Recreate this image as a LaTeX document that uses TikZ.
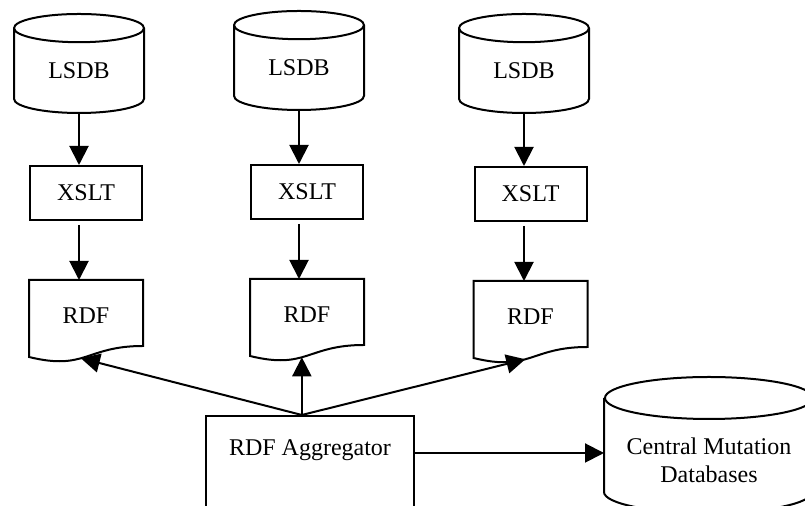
\documentclass[tikz,border=0pt]{standalone}
\usepackage{fontspec}
\setmainfont{Liberation Serif}
\usetikzlibrary{positioning, arrows.meta, shapes.geometric}

\tikzset{
  every node/.style={font=\fontsize{12}{14}\selectfont},
  lsdbcyl/.style={cylinder, shape border rotate=90, draw, aspect=0.46,
    minimum width=65pt, minimum height=49.5pt, inner sep=0pt, anchor=north},
  xsltbox/.style={draw, rectangle, minimum width=56pt, minimum height=27pt, anchor=north},
  docpage/.style={rectangle, inner sep=0pt, minimum width=56pt,
    text height=21.5pt, text depth=10.5pt, anchor=north},
  flow/.style={-{Triangle[length=9.5pt, width=9.5pt]}}
}

\begin{document}
\begin{tikzpicture}[x=0.5pt, y=-0.5pt, line width=1pt]
  \useasboundingbox (0,0) rectangle (805,506);
  \clip (0,0) rectangle (805,506);

  % one column per local database
  \node[lsdbcyl] (lsdb1) at (79,13) {LSDB};
  \node[lsdbcyl] (lsdb2) at (299,10) {LSDB};
  \node[lsdbcyl] (lsdb3) at (524,13) {LSDB};

  \node[xsltbox] (xslt1) at (86,165) {XSLT};
  \node[xsltbox] (xslt2) at (307,164) {XSLT};
  \node[xsltbox] (xslt3) at (530.5,166) {XSLT};

  \node[docpage] (rdf1) at (86,280) {RDF};
  \node[docpage] (rdf2) at (307,279) {RDF};
  \node[docpage] (rdf3) at (530.5,281) {RDF};

  % page outline with the curled bottom edge
  \foreach \d in {rdf1,rdf2,rdf3}
    \draw (\d.north west) -- ([yshift=-5.5pt]\d.south west)
      .. controls ([yshift=-12.5pt]\d.south) and (\d.south) .. (\d.south east)
      coordinate[pos=0.44] (\d-in) -- (\d.north east) -- cycle;

  \node[draw, rectangle, inner sep=0pt, minimum width=104pt,
        text height=20pt, text depth=37pt, anchor=north] (agg) at (310,415) {RDF Aggregator};

  % central store: outline drawn by hand round a plain node
  \node[rectangle, inner sep=0pt, minimum width=104pt, minimum height=82pt,
        align=center, anchor=north] (cmdb) at (709,377) {Central Mutation\\Databases};
  \draw ([yshift=-10.5pt]cmdb.north) ellipse [x radius=52pt, y radius=10.5pt];
  \draw ([yshift=-10.5pt]cmdb.north west) -- ([yshift=-57.5pt]cmdb.north west)
    arc[start angle=180, end angle=360, x radius=52pt, y radius=10.5pt]
    -- ([yshift=-10.5pt]cmdb.north east);

  \foreach \i in {1,2,3} {
    \draw[flow] (lsdb\i.south) -- (lsdb\i.south |- xslt\i.north);
    \draw[flow, shorten <=2pt] (lsdb\i.south |- xslt\i.south) -- (lsdb\i.south |- rdf\i.north);
  }

  \coordinate (hub) at (rdf2-in |- agg.north);
  \foreach \d in {rdf1,rdf2,rdf3}
    \draw[flow] (hub) -- (\d-in);
  \draw[flow] ([yshift=1.5pt]agg.base east) -- ([yshift=1.5pt]agg.base east -| cmdb.west);
\end{tikzpicture}
\end{document}
